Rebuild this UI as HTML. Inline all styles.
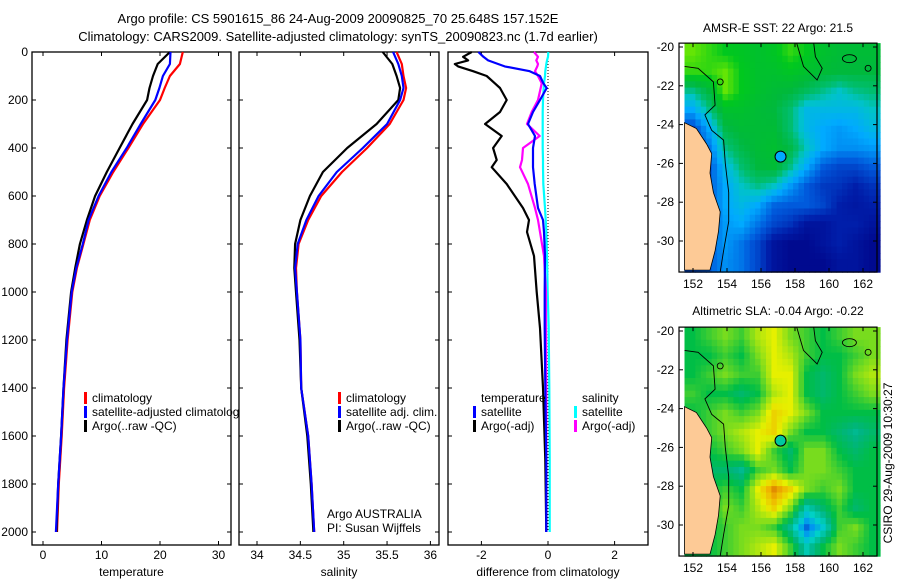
<!DOCTYPE html>
<html><head><meta charset="utf-8"><style>
html,body{margin:0;padding:0;background:#fff;}
svg{display:block;font-family:"Liberation Sans",sans-serif;}
</style></head><body>
<svg id="fig" width="900" height="580" viewBox="0 0 900 580">
<rect width="900" height="580" fill="#fff"/>
<text x="338" y="23" font-size="13" text-anchor="middle">Argo profile: CS 5901615_86 24-Aug-2009 20090825_70 25.648S 157.152E</text>
<text x="338" y="41" font-size="13" text-anchor="middle">Climatology: CARS2009. Satellite-adjusted climatology: synTS_20090823.nc (1.7d earlier)</text>
<g id="p1"></g>
<g id="p2"></g>
<g id="p3"></g>
<g id="m1"></g>
<g id="m2"></g>
<text transform="translate(892,463) rotate(-90)" font-size="12" text-anchor="middle">CSIRO 29-Aug-2009 10:30:27</text>
</svg>
<script>
// ---------- data ----------
const depthTicks=[0,200,400,600,800,1000,1200,1400,1600,1800,2000];
const tempTicks=[0,10,20,30];
const salTicks=[34,34.5,35,35.5,36];
const salTickLabels=["34","34.5","35","35.5","36"];
const diffTicks=[-2,0,2];
const profDepth=[0,50,100,150,200,300,400,500,600,700,800,900,1000,1200,1400,1600,1800,2000];
const tempClim=[23.9,23.4,21.7,20.8,20,17.1,14.6,12,9.7,8,6.9,5.8,5,4.2,3.6,3.2,2.7,2.4];
const tempSat=[21.8,21.7,20.5,19.9,19.2,16.7,14.3,11.7,9.5,7.8,6.8,5.7,4.9,4.1,3.5,3.1,2.6,2.2];
const tempArgo=[21.7,19.6,18.8,18.2,17.8,15.3,13.1,10.9,8.9,7.5,6.3,5.5,4.8,4.0,3.5,3.1,2.6,2.3];
const salClim=[35.61,35.67,35.69,35.72,35.69,35.53,35.27,34.98,34.74,34.59,34.48,34.45,34.46,34.5,34.51,34.59,34.63,34.66];
const salSat=[35.57,35.63,35.67,35.69,35.65,35.5,35.22,34.92,34.71,34.57,34.47,34.44,34.46,34.5,34.51,34.59,34.63,34.66];
const salArgo=[35.45,35.56,35.61,35.65,35.63,35.38,35.04,34.76,34.61,34.5,34.44,34.43,34.45,34.49,34.51,34.58,34.62,34.65];
const diffDepth=[0,20,35,50,60,80,100,130,150,200,250,300,350,400,450,480,550,650,700,750,850,1000,1150,1400,1700,2000];
const dTempArgo=[-2.29,-2.55,-2.4,-2.8,-2.7,-2.25,-1.84,-1.6,-1.44,-1.24,-1.44,-1.89,-1.39,-1.65,-1.54,-1.69,-1.24,-0.75,-0.57,-0.63,-0.42,-0.34,-0.24,-0.15,-0.08,-0.05];
const dTempSat=[-2.09,-1.94,-1.8,-1.5,-1.3,-0.55,-0.24,-0.14,-0.04,-0.24,-0.45,-0.6,-0.39,-0.45,-0.45,-0.45,-0.4,-0.3,-0.15,-0.12,-0.09,-0.1,-0.1,-0.08,-0.05,-0.05];
const dSalArgo=[-0.42,-0.3,-0.35,-0.3,-0.32,-0.39,-0.3,-0.19,-0.22,-0.3,-0.49,-0.63,-0.25,-0.75,-0.78,-0.84,-0.6,-0.39,-0.3,-0.24,-0.12,-0.06,-0.06,-0.05,-0.05,-0.05];
const dSalSat=[0.01,0.0,-0.03,-0.05,-0.06,-0.08,-0.09,-0.12,-0.13,-0.15,-0.16,-0.16,-0.16,-0.16,-0.15,-0.15,-0.14,-0.09,-0.07,-0.05,-0.03,-0.01,0.02,0.04,0.05,0.05];
const latTicks=[-20,-22,-24,-26,-28,-30];
const lonTicks=[152,154,156,158,160,162];
const sstGrid=[
[.9,.85,.8,.78,.75,.78,.85,.8,.75,.72,.72,.72],
[.85,.85,.9,.8,.75,.75,.78,.75,.72,.7,.7,.7],
[.6,.7,.9,.8,.75,.72,.7,.65,.6,.55,.6,.62],
[.45,.6,.75,.75,.72,.7,.62,.5,.5,.5,.5,.55],
[.25,.45,.68,.72,.72,.72,.62,.5,.45,.42,.45,.5],
[.25,.35,.6,.68,.72,.74,.68,.55,.45,.4,.4,.42],
[.25,.28,.5,.62,.7,.72,.6,.45,.3,.25,.25,.3],
[.25,.3,.45,.55,.6,.55,.42,.3,.22,.2,.15,.2],
[.25,.3,.45,.5,.45,.32,.3,.3,.25,.15,.12,.15],
[.25,.3,.42,.45,.35,.25,.2,.1,.1,.15,.15,.1],
[.25,.3,.42,.35,.25,.1,.05,.05,.1,.15,.1,.05],
[.25,.3,.4,.35,.25,.1,.05,.05,.05,.1,.1,.05]];
const slaGrid=[
[.5,.55,.6,.55,.65,.7,.6,.55,.5,.55,.6,.6],
[.5,.5,.55,.5,.6,.7,.65,.55,.5,.5,.55,.6],
[.5,.55,.6,.55,.55,.7,.7,.5,.45,.5,.6,.65],
[.55,.5,.5,.45,.5,.65,.7,.5,.45,.5,.55,.6],
[.5,.55,.6,.55,.6,.75,.7,.6,.5,.5,.5,.5],
[.5,.55,.6,.65,.7,.75,.6,.5,.5,.45,.4,.45],
[.5,.5,.55,.6,.7,.55,.45,.6,.6,.5,.45,.5],
[.5,.45,.45,.4,.55,.6,.5,.6,.6,.55,.5,.5],
[.5,.5,.55,.5,.7,.85,.75,.6,.55,.6,.5,.5],
[.5,.5,.6,.55,.65,.75,.6,.35,.45,.55,.45,.5],
[.5,.5,.55,.6,.6,.55,.4,.15,.3,.55,.6,.5],
[.5,.5,.55,.6,.65,.7,.55,.35,.5,.6,.55,.5]];
const coastLon=[151.5,152.2,152.8,153.1,153.0,153.2,153.6,153.5,153.3,153.0,151.5];
const coastLat=[-23.9,-24.2,-25,-25.5,-26.5,-27.5,-28.5,-29.5,-30.5,-31.5,-31.5];
const floatLon=157.15, floatLat=-25.65;

// ---------- helpers ----------
const NS='http://www.w3.org/2000/svg';
function mk(parent,tag,attrs){const e=document.createElementNS(NS,tag);for(const k in attrs)e.setAttribute(k,attrs[k]);parent.appendChild(e);return e;}
function txt(parent,x,y,s,anchor,size){const t=mk(parent,'text',{x:x,y:y,'font-size':size||12,'text-anchor':anchor||'start'});t.textContent=s;return t;}
const yTop=52,yBot=545;
const yD=d=>52+d*0.24;

function panel(g,x0,x1,xs,ticks,labels,title,showY){
  mk(g,'rect',{x:x0,y:yTop,width:x1-x0,height:yBot-yTop,fill:'#fff'});
  const frame=mk(g,'rect',{x:x0,y:yTop,width:x1-x0,height:yBot-yTop,fill:'none',stroke:'#000','stroke-width':1.3});
  
  
  ticks.forEach((v,i)=>{const x=xs(v);
    mk(g,'line',{x1:x,x2:x,y1:yBot,y2:yBot-4,stroke:'#000'});
    mk(g,'line',{x1:x,x2:x,y1:yTop,y2:yTop+4,stroke:'#000'});
    const t=txt(g,x,559,labels[i],'middle');
    
    });
  depthTicks.forEach(d=>{const y=yD(d);
    mk(g,'line',{x1:x0,x2:x0+4,y1:y,y2:y,stroke:'#000'});
    mk(g,'line',{x1:x1,x2:x1-4,y1:y,y2:y,stroke:'#000'});
    if(showY){const t=txt(g,28,y+4,String(d),'end');
      
      }});
  const tt=txt(g,(x0+x1)/2,576,title,'middle');
  
  
}
function line(g,xs,vals,depths,color,name){
  const pts=vals.map((v,i)=>xs(v).toFixed(1)+','+yD(depths[i]).toFixed(1)).join(' ');
  const p=mk(g,'polyline',{points:pts,fill:'none',stroke:color,'stroke-width':2.2,'stroke-linejoin':'round'});
  
  
}
function legend(g,x,y,color,label){
  mk(g,'rect',{x:x,y:y-10,width:3,height:12,fill:color});
  const t=txt(g,x+8,y,label,'start');
  
  
}

// ---------- panel 1 ----------
const p1=document.getElementById('p1');
const xT=v=>43+v*5.85;
panel(p1,32,231,xT,tempTicks,tempTicks.map(String),'temperature',true);
line(p1,xT,tempClim,profDepth,'#f00','temp-climatology-line');
line(p1,xT,tempArgo,profDepth,'#000','temp-argo-line');
line(p1,xT,tempSat,profDepth,'#00f','temp-satellite-line');
legend(p1,84,402,'#f00','climatology');
legend(p1,84,416,'#00f','satellite-adjusted climatology');
legend(p1,84,430,'#000','Argo(..raw -QC)');

// ---------- panel 2 ----------
const p2=document.getElementById('p2');
const xS=v=>257+(v-34)*86.7;
panel(p2,239,439,xS,salTicks,salTickLabels,'salinity',false);
line(p2,xS,salClim,profDepth,'#f00','sal-climatology-line');
line(p2,xS,salArgo,profDepth,'#000','sal-argo-line');
line(p2,xS,salSat,profDepth,'#00f','sal-satellite-line');
legend(p2,338,402,'#f00','climatology');
legend(p2,338,416,'#00f','satellite adj. clim.');
legend(p2,338,430,'#000','Argo(..raw -QC)');
let t1=txt(p2,327,518,'Argo AUSTRALIA');
let t2=txt(p2,327,532,'PI: Susan Wijffels');

// ---------- panel 3 ----------
const p3=document.getElementById('p3');
const xDf=v=>548+v*33.3;
panel(p3,448,648,xDf,diffTicks,diffTicks.map(String),'difference from climatology',false);
mk(p3,'line',{x1:xDf(0),x2:xDf(0),y1:yTop,y2:yD(2000),stroke:'#000','stroke-dasharray':'1,2'});
line(p3,xDf,dSalSat,diffDepth,'#0ff','diff-sal-satellite-line');
line(p3,xDf,dSalArgo,diffDepth,'#f0f','diff-sal-argo-line');
line(p3,xDf,dTempArgo,diffDepth,'#000','diff-temp-argo-line');
line(p3,xDf,dTempSat,diffDepth,'#00f','diff-temp-satellite-line');
let t3=txt(p3,481,402,'temperature');
let t4=txt(p3,582,402,'salinity');
legend(p3,473,416,'#00f','satellite');
legend(p3,473,430,'#000','Argo(-adj)');
legend(p3,574,416,'#0ff','satellite');
legend(p3,574,430,'#f0f','Argo(-adj)');

// ---------- maps ----------
function lerpColor(stops,v){
  if(v<=stops[0][0]){const f=stops[0];return 'rgb('+f[1]+','+f[2]+','+f[3]+')';}
  for(let i=1;i<stops.length;i++){if(v<=stops[i][0]){const a=stops[i-1],b=stops[i];const t=(v-a[0])/(b[0]-a[0]);
    return 'rgb('+[1,2,3].map(k=>Math.round(a[k]+(b[k]-a[k])*t)).join(',')+')';}}
  const l=stops[stops.length-1];return 'rgb('+l[1]+','+l[2]+','+l[3]+')';
}
const sstStops=[[0,0,0,130],[0.15,0,30,170],[0.3,0,90,220],[0.45,0,170,255],[0.55,0,195,200],[0.62,0,190,110],[0.7,0,185,60],[0.8,0,200,30],[0.92,120,235,0]];
const slaStops=[[0.1,0,60,200],[0.2,0,150,240],[0.32,0,210,200],[0.42,0,180,130],[0.5,0,190,70],[0.6,120,220,30],[0.7,230,240,0],[0.8,240,180,0],[0.9,210,100,0]];
function sample(grid,fr,fc){
  const nr=grid.length,nc=grid[0].length;
  const r=Math.min(Math.max(fr-0.5,0),nr-1), c=Math.min(Math.max(fc-0.5,0),nc-1);
  const r0=Math.floor(r),c0=Math.floor(c),r1=Math.min(r0+1,nr-1),c1=Math.min(c0+1,nc-1);
  const tr=r-r0,tc=c-c0;
  return grid[r0][c0]*(1-tr)*(1-tc)+grid[r0][c1]*(1-tr)*tc+grid[r1][c0]*tr*(1-tc)+grid[r1][c1]*tr*tc;
}
function drawMap(g,top,bottom,grid,stops,title,circleFill,titleY){
  const x0=679,x1=877;
  const lon=v=>693+(v-152)*17;
  const lat=v=>top+ (-20-v)*(bottom-top)/10;
  const lonMin=151.5,lonMax=163,latMax=-19.8,latMin=-31.6;
  const yTopF=lat(latMax), yBotF=lat(latMin);
  const tt=txt(g,(x0+x1)/2,titleY,title,'middle');
  
  
  const nr=grid.length,nc=grid[0].length;
  const S=3;
  const cw=(lonMax-lonMin)/(nc*S), ch=(latMax-latMin)/(nr*S);
  for(let r=0;r<nr*S;r++)for(let c=0;c<nc*S;c++){
    const v=sample(grid,(r+0.5)/S,(c+0.5)/S);
    const xa=lon(lonMin+c*cw), xb=lon(lonMin+(c+1)*cw);
    const ya=lat(latMax-r*ch), yb=lat(latMax-(r+1)*ch);
    const cell=mk(g,'rect',{x:xa.toFixed(1),y:ya.toFixed(1),width:(xb-xa+0.6).toFixed(1),height:(yb-ya+0.6).toFixed(1),fill:lerpColor(stops,v)});
    
    
  }
  const land=mk(g,'polygon',{points:coastLon.map((v,i)=>lon(v).toFixed(1)+','+Math.min(lat(coastLat[i]),yBotF).toFixed(1)).join(' '),fill:'#fdca96',stroke:'#000','stroke-width':0.8});
  
  
  const c1=[[151.5,-21],[152.3,-21.1],[153.2,-21.8],[153.3,-23],[152.7,-23.5],[153.1,-24.3],[153.8,-24.8],[153.9,-26],[154.1,-27.5],[154.1,-29],[153.8,-30.5],[153.6,-31.6]];
  const c2=[[158.1,-19.8],[158.5,-21],[159.3,-21.7],[159.6,-21.1],[159.2,-20.5],[159.1,-19.8]];
  [c1,c2].forEach(c=>{const p=mk(g,'polyline',{points:c.map(q=>lon(q[0]).toFixed(1)+','+lat(q[1]).toFixed(1)).join(' '),fill:'none',stroke:'#000','stroke-width':0.9});
    });
  mk(g,'circle',{cx:lon(153.6),cy:lat(-21.8),r:3,fill:'none',stroke:'#000','stroke-width':0.9});
  mk(g,'ellipse',{cx:lon(161.2),cy:lat(-20.6),rx:7,ry:4,fill:'none',stroke:'#000','stroke-width':0.9});
  mk(g,'circle',{cx:lon(162.3),cy:lat(-21.1),r:3,fill:'none',stroke:'#000','stroke-width':0.9});
  const fc=mk(g,'circle',{cx:lon(floatLon),cy:lat(floatLat),r:5.5,fill:circleFill,stroke:'#000','stroke-width':1});
  
  
  const fr=mk(g,'rect',{x:x0,y:yTopF,width:x1-x0,height:yBotF-yTopF,fill:'none',stroke:'#000','stroke-width':1.2});
  
  
  latTicks.forEach(v=>{const y=lat(v);
    mk(g,'line',{x1:x0,x2:x0+4,y1:y,y2:y,stroke:'#000'});
    mk(g,'line',{x1:x1,x2:x1-4,y1:y,y2:y,stroke:'#000'});
    const t=txt(g,674,y+4,String(v),'end');
    
    });
  lonTicks.forEach(v=>{const x=lon(v);
    mk(g,'line',{x1:x,x2:x,y1:yBotF,y2:yBotF-4,stroke:'#000'});
    mk(g,'line',{x1:x,x2:x,y1:yTopF,y2:yTopF+4,stroke:'#000'});
    const t=txt(g,x,yBotF+16,String(v),'middle');
    
    });
}
drawMap(document.getElementById('m1'),47,241,sstGrid,sstStops,'AMSR-E SST: 22 Argo: 21.5','#00aaff',32);
drawMap(document.getElementById('m2'),331,525,slaGrid,slaStops,'Altimetric SLA: -0.04 Argo: -0.22','#00c8a0',315);
</script>
</body></html>
